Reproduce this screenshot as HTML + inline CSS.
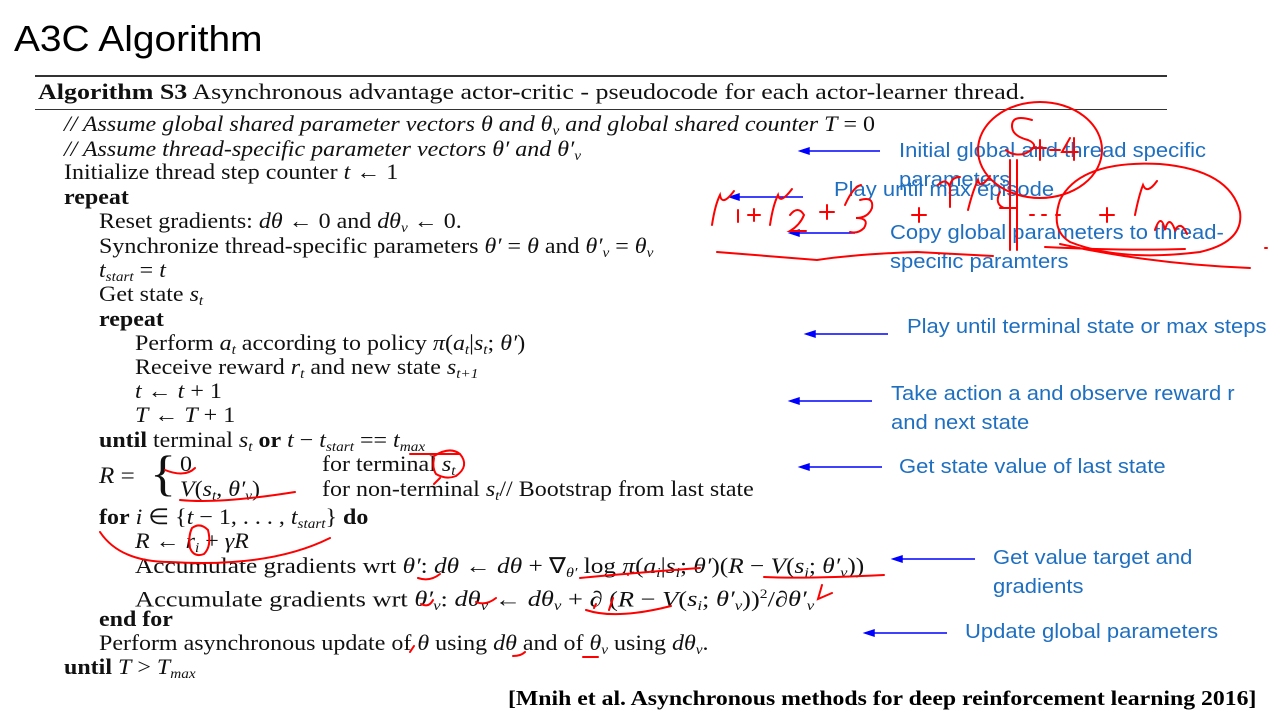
<!DOCTYPE html>
<html><head><meta charset="utf-8"><style>
body{margin:0;width:1280px;height:720px;background:#fff;position:relative;overflow:hidden}
.t{position:absolute;white-space:nowrap;font-family:"Liberation Serif",serif;font-size:22px;color:#111;line-height:24px;transform:scaleX(1.09);transform-origin:0 0}
.n{position:absolute;white-space:nowrap;font-family:"Liberation Sans",sans-serif;font-size:20px;color:#1F6FC0;line-height:29px;transform:scaleX(1.1);transform-origin:0 0}
i{font-style:italic}
sub{font-size:14px;vertical-align:-4px;line-height:0}
svg{position:absolute;left:0;top:0}
</style></head><body>
<div style="position:absolute;left:14px;top:18px;font-family:'Liberation Sans',sans-serif;font-size:36px;color:#000;transform:scaleX(1.08);transform-origin:0 0">A3C Algorithm</div>
<div style="position:absolute;left:35px;top:75px;width:1132px;height:2px;background:#333"></div>
<div class="t" style="left:38px;top:80px;font-size:22px;transform:scaleX(1.18)"><b>Algorithm S3</b> Asynchronous advantage actor-critic - pseudocode for each actor-learner thread.</div>
<div style="position:absolute;left:35px;top:109px;width:1132px;height:1px;background:#333"></div>
<div>
<div class="t" style="left:64px;top:112px"><i>// Assume global shared parameter vectors θ and θ<sub>v</sub> and global shared counter T</i> = 0</div>
<div class="t" style="left:64px;top:137px"><i>// Assume thread-specific parameter vectors θ′ and θ′<sub>v</sub></i></div>
<div class="t" style="left:64px;top:160px">Initialize thread step counter <i>t</i> ← 1</div>
<div class="t" style="left:64px;top:185px"><b>repeat</b></div>
<div class="t" style="left:99px;top:209px">Reset gradients: <i>dθ</i> ← 0 and <i>dθ<sub>v</sub></i> ← 0.</div>
<div class="t" style="left:99px;top:234px">Synchronize thread-specific parameters <i>θ′</i> = <i>θ</i> and <i>θ′<sub>v</sub></i> = <i>θ<sub>v</sub></i></div>
<div class="t" style="left:99px;top:258px"><i>t<sub>start</sub></i> = <i>t</i></div>
<div class="t" style="left:99px;top:282px">Get state <i>s<sub>t</sub></i></div>
<div class="t" style="left:99px;top:307px"><b>repeat</b></div>
<div class="t" style="left:135px;top:331px">Perform <i>a<sub>t</sub></i> according to policy <i>π</i>(<i>a<sub>t</sub></i>|<i>s<sub>t</sub></i>; <i>θ′</i>)</div>
<div class="t" style="left:135px;top:355px">Receive reward <i>r<sub>t</sub></i> and new state <i>s<sub>t+1</sub></i></div>
<div class="t" style="left:135px;top:379px"><i>t</i> ← <i>t</i> + 1</div>
<div class="t" style="left:135px;top:403px"><i>T</i> ← <i>T</i> + 1</div>
<div class="t" style="left:99px;top:428px"><b>until</b> terminal <i>s<sub>t</sub></i> <b>or</b> <i>t</i> − <i>t<sub>start</sub></i> == <i>t<sub>max</sub></i></div>
<div class="t" style="left:99px;top:464px;font-size:23px"><i>R</i> = </div>
<div class="t" style="left:150px;top:448px;font-size:50px;line-height:50px">{</div>
<div class="t" style="left:180px;top:452px">0</div>
<div class="t" style="left:180px;top:477px"><i>V</i>(<i>s<sub>t</sub></i>, <i>θ′<sub>v</sub></i>)</div>
<div class="t" style="left:322px;top:452px">for terminal <i>s<sub>t</sub></i></div>
<div class="t" style="left:322px;top:477px">for non-terminal <i>s<sub>t</sub></i>// Bootstrap from last state</div>
<div class="t" style="left:99px;top:505px"><b>for</b> <i>i</i> ∈ {<i>t</i> − 1, . . . , <i>t<sub>start</sub></i>} <b>do</b></div>
<div class="t" style="left:135px;top:529px"><i>R</i> ← <i>r<sub>i</sub></i> + <i>γR</i></div>
<div class="t" style="left:135px;top:554px;transform:scaleX(1.15)">Accumulate gradients wrt <i>θ′</i>: <i>dθ</i> ← <i>dθ</i> + ∇<sub><i>θ′</i></sub> log <i>π</i>(<i>a<sub>i</sub></i>|<i>s<sub>i</sub></i>; <i>θ′</i>)(<i>R</i> − <i>V</i>(<i>s<sub>i</sub></i>; <i>θ′<sub>v</sub></i>))</div>
<div class="t" style="left:135px;top:582px;transform:scaleX(1.2)">Accumulate gradients wrt <i>θ′<sub>v</sub></i>: <i>dθ<sub>v</sub></i> ← <i>dθ<sub>v</sub></i> + ∂ (<i>R</i> − <i>V</i>(<i>s<sub>i</sub></i>; <i>θ′<sub>v</sub></i>))<sup style="font-size:13px">2</sup>/∂<i>θ′<sub>v</sub></i></div>
<div class="t" style="left:99px;top:607px"><b>end for</b></div>
<div class="t" style="left:99px;top:631px">Perform asynchronous update of <i>θ</i> using <i>dθ</i> and of <i>θ<sub>v</sub></i> using <i>dθ<sub>v</sub></i>.</div>
<div class="t" style="left:64px;top:655px"><b>until</b> <i>T</i> &gt; <i>T<sub>max</sub></i></div>
</div>
<div class="n" style="left:899px;top:137px">Initial global and thread specific<br>parameters</div>
<div class="n" style="left:834px;top:176px">Play until max episode</div>
<div class="n" style="left:890px;top:219px">Copy global parameters to thread-<br>specific paramters</div>
<div class="n" style="left:907px;top:313px">Play until terminal state or max steps</div>
<div class="n" style="left:891px;top:380px">Take action a and observe reward r<br>and next state</div>
<div class="n" style="left:899px;top:453px">Get state value of last state</div>
<div class="n" style="left:993px;top:544px">Get value target and<br>gradients</div>
<div class="n" style="left:965px;top:618px">Update global parameters</div>
<div style="position:absolute;left:508px;top:686px;font-family:'Liberation Serif',serif;font-weight:bold;font-size:21px;white-space:nowrap;transform:scaleX(1.13);transform-origin:0 0">[Mnih et al. Asynchronous methods for deep reinforcement learning 2016]</div>
<svg width="1280" height="720">
<g stroke="#0000ff" stroke-width="1.5" fill="#0000ff">
<line x1="880" y1="151" x2="806" y2="151"/><path d="M800 151 l9 -3 v6z"/>
<line x1="803" y1="197" x2="736" y2="197"/><path d="M730 197 l9 -3 v6z"/>
<line x1="855" y1="233" x2="796" y2="233"/><path d="M790 233 l9 -3 v6z"/>
<line x1="888" y1="334" x2="812" y2="334"/><path d="M806 334 l9 -3 v6z"/>
<line x1="872" y1="401" x2="796" y2="401"/><path d="M790 401 l9 -3 v6z"/>
<line x1="882" y1="467" x2="806" y2="467"/><path d="M800 467 l9 -3 v6z"/>
<line x1="975" y1="559" x2="899" y2="559"/><path d="M893 559 l9 -3 v6z"/>
<line x1="947" y1="633" x2="871" y2="633"/><path d="M865 633 l9 -3 v6z"/>
</g>
<g stroke="#ff0000" stroke-width="2" fill="none" stroke-linecap="round">
<ellipse cx="1040" cy="150" rx="62" ry="48"/>
<path d="M1032 120 q-20 -6 -20 6 q0 10 16 14 q14 6 -4 14 q-12 2 -18 -4"/>
<path d="M1040 140 v20 M1032 148 h14 M1050 150 h10 M1070 138 l-8 14 h16 M1074 138 v22"/>
<path d="M712 225 q3 -20 8 -30 q2 12 14 -4 M738 210 v12 M748 215 h12 M754 209 v12"/>
<path d="M770 225 q3 -20 8 -30 q2 10 14 -6 M790 215 q8 -10 14 0 q-4 10 -14 16 h16"/>
<path d="M820 212 h14 M827 205 v14 M845 205 q8 -18 16 -20 M860 200 q14 -4 12 8 q-4 10 -16 10 q14 0 8 10 q-6 6 -14 4"/>
<path d="M912 215 h14 M919 208 v14 M938 185 q8 -8 12 2 v20 M950 185 q2 -8 10 -8 M968 210 q5 -20 10 -30 q2 10 12 -4"/>
<path d="M1004 208 q-10 -4 -4 -16 M1000 208 h16 M1010 196 v28"/>
<path d="M1030 215 h4 M1042 215 h4 M1056 215 h4 M1100 215 h14 M1107 208 v14"/>
<path d="M1135 215 q4 -20 8 -30 q4 10 14 -4 M1155 230 q6 -18 10 0 q4 -16 10 0 q6 -10 12 4"/>
<path d="M1060 200 q20 -40 100 -36 q70 6 80 48 q4 30 -40 40 q-80 10 -130 -10 q-20 -12 -10 -42"/>
<path d="M717 252 q50 4 100 8 q40 -6 100 -8 q40 2 76 4 M1045 247 q80 4 140 2 M1060 244 q90 20 190 24 M1265 248 h2"/>
<path d="M1017 160 v90 M1010 160 v90"/>
<path d="M165 470 q20 8 30 -2 M180 500 q40 4 115 -8"/>
<path d="M434 456 q16 -10 26 -2 q10 12 -4 22 q-10 4 -20 -2 q-4 -6 -2 -16 M410 454 h50 M440 478 l-6 6"/>
<path d="M100 532 q20 30 70 30 q100 6 160 -24"/>
<path d="M192 528 q8 -6 16 2 q4 16 -4 24 q-10 4 -14 -6 q-2 -12 2 -20"/>
<path d="M418 578 q12 4 22 -4 M580 578 q40 -4 120 -10 M764 577 q40 2 120 -2 M822 585 l-4 14 l14 -6 M628 575 v0"/>
<path d="M421 604 q8 4 12 -4 M476 602 q10 4 20 -4 M596 604 l-2 4 M613 598 l-4 12 M586 610 q30 10 85 -4"/>
<path d="M410 652 l4 -6 M513 656 q8 0 12 -4 M583 657 h15"/>
</g>
</svg>
</body></html>
